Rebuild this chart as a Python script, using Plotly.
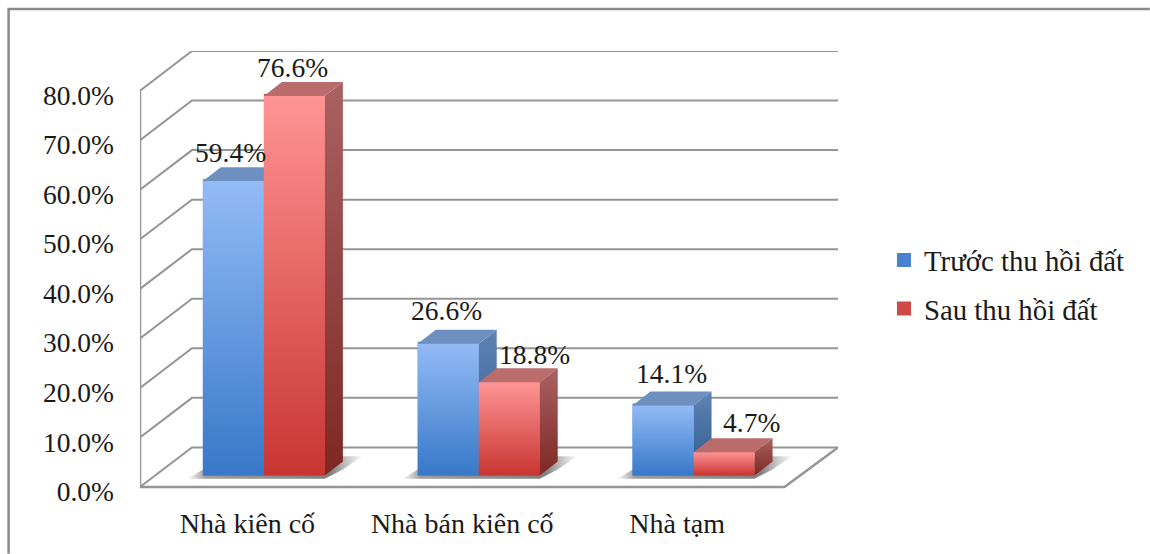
import plotly.graph_objects as go

# ---- data ----
categories = ["Nhà kiên cố", "Nhà bán kiên cố", "Nhà tạm"]
series_names = ["Trước thu hồi đất", "Sau thu hồi đất"]
truoc = [59.4, 26.6, 14.1]
sau = [76.6, 18.8, 4.7]
y_ticks = [0, 10, 20, 30, 40, 50, 60, 70, 80]

# label nudges in pixels (x, y) for each series
label_nudge_truoc = [(-3, 29), (-2, 33), (8, 32)]
label_nudge_sau = [(-2, 28), (25, 28), (27, 30)]

# ---- pseudo-3D geometry in axis units ----
X_MIN, X_MAX = -0.5, 2.749
X_FRONT_END = 2.5
Y_MIN, Y_MAX = -1.0, 88.0
WALL_DX, WALL_DY = 0.2419, 8.0
BAR_BASE = 2.34
GROUP_SHIFT = 0.0767
BAR_W = 0.284
SIDE_DX, SIDE_DY = 0.0837, 2.82
TICK_LABEL_DROP = 0.9  # the labels sit slightly under their gridline ends

FONT = "Liberation Serif"
TEXT = "#1a1a1a"
GRID = "#959595"

styles = [
    dict(front=("#93bbf6", "#3778c8"), top="#6d90c1", side=("#5f83b3", "#2d5a91"), bar="#4a82cf"),
    dict(front=("#ff9494", "#c83531"), top="#ba6c6c", side=("#a96262", "#7e2723"), bar="#cf4a47"),
]

fig = go.Figure()


def poly(xs, ys, **kw):
    fig.add_trace(go.Scatter(x=xs, y=ys, mode="none", fill="toself", showlegend=False,
                             hoverinfo="skip", **kw))


def vgrad(c_top, c_bot):
    return dict(type="vertical", colorscale=[[0, c_bot], [1, c_top]])


# solid bars (carry the legend); shaded faces are laid over them
for s, (name, vals) in enumerate(zip(series_names, (truoc, sau))):
    fig.add_trace(go.Bar(
        x=[i + GROUP_SHIFT + (s - 0.5) * BAR_W for i in range(len(categories))],
        y=vals, base=BAR_BASE + 0.2, width=BAR_W - 0.0093, name=name, legendgroup=name,
        marker=dict(color=styles[s]["bar"], line=dict(width=2, color=styles[s]["bar"])),
    ))

# walls and floor
for v in y_ticks:
    fig.add_trace(go.Scatter(
        x=[X_MIN, X_MIN + WALL_DX, X_MAX], y=[v, v + WALL_DY, v + WALL_DY], mode="lines",
        line=dict(color=GRID, width=2), showlegend=False, hoverinfo="skip"))
fig.add_trace(go.Scatter(
    x=[X_MIN, X_MIN, X_FRONT_END, X_MAX], y=[y_ticks[-1], 0, 0, WALL_DY], mode="lines",
    line=dict(color=GRID, width=2.5), showlegend=False, hoverinfo="skip"))

# floor shadows
SHADOW = dict(type="horizontal", colorscale=[
    [0, "rgba(140,140,140,0.05)"], [0.1, "rgba(125,125,125,0.75)"],
    [0.82, "rgba(105,105,105,0.85)"], [1, "rgba(140,140,140,0.05)"]])
for i in range(len(categories)):
    left = i + GROUP_SHIFT - BAR_W
    right = i + GROUP_SHIFT + BAR_W
    poly([left - 0.07, left, right + SIDE_DX, right + SIDE_DX + 0.09, right + SIDE_DX, right],
         [BAR_BASE - 0.65, BAR_BASE + 1.2, BAR_BASE + 3.9, BAR_BASE + 3.9, BAR_BASE + 1.2, BAR_BASE - 0.65],
         fillgradient=SHADOW, fillcolor="rgba(125,125,125,0.6)")

# 3D faces
for i in range(len(categories)):
    for s, vals in enumerate((truoc, sau)):
        st = styles[s]
        x0 = i + GROUP_SHIFT + (s - 1) * BAR_W
        x1 = x0 + BAR_W
        top = BAR_BASE + vals[i]
        # top face
        poly([x0, x0 + SIDE_DX, x1 + SIDE_DX, x1], [top, top + SIDE_DY, top + SIDE_DY, top],
             fillcolor=st["top"])
        # side face
        poly([x1, x1 + SIDE_DX, x1 + SIDE_DX, x1],
             [BAR_BASE, BAR_BASE + SIDE_DY, top + SIDE_DY, top],
             fillgradient=vgrad(*st["side"]), fillcolor=st["side"][0])
        # front face
        poly([x0, x1, x1, x0], [BAR_BASE, BAR_BASE, top, top],
             fillgradient=vgrad(*st["front"]), fillcolor=st["front"][0])

# data labels
annotations = []
for s, (vals, nudges) in enumerate(((truoc, label_nudge_truoc), (sau, label_nudge_sau))):
    for i, (v, (nx, ny)) in enumerate(zip(vals, nudges)):
        annotations.append(dict(
            x=i + GROUP_SHIFT + (s - 0.5) * BAR_W, y=BAR_BASE + v, text=f"{v:.1f}%",
            showarrow=False, xshift=nx, yshift=ny,
            font=dict(family=FONT, size=27.5, color=TEXT)))

W, H = 1150, 554
L, R, T, B = 139.5, 838, 51, 492.26
pw, ph = R - L, B - T


def px(x):
    return (x - L) / pw


def py(y):
    return (B - y) / ph


fig.update_layout(
    width=W, height=H, autosize=False,
    margin=dict(l=L, r=W - R, t=T, b=H - B, pad=0),
    paper_bgcolor="white", plot_bgcolor="white",
    barmode="overlay", annotations=annotations,
    font=dict(family=FONT, size=27.5, color=TEXT),
    showlegend=True,
    legend=dict(x=px(884), y=py(235), xanchor="left", yanchor="top", tracegroupgap=8,
                bgcolor="rgba(0,0,0,0)", font=dict(family=FONT, size=28.8, color=TEXT)),
    xaxis=dict(range=[X_MIN, X_MAX], tickmode="array", tickvals=list(range(len(categories))),
               ticktext=categories, showgrid=False, zeroline=False, showline=False, ticks="",
               ticklabelstandoff=12, automargin=False, tickfont=dict(family=FONT, size=28, color=TEXT)),
    yaxis=dict(range=[Y_MIN, Y_MAX], tickmode="array", tickvals=[v - TICK_LABEL_DROP for v in y_ticks],
               ticktext=[f"{v:.1f}%" for v in y_ticks],
               showgrid=False, zeroline=False, showline=False, ticks="",
               ticklabelstandoff=25, automargin=False),
    shapes=[dict(type="path", xref="paper", yref="paper",
                 path=f"M {px(8)} {py(554)} L {px(8)} {py(9)} L {px(1150)} {py(9)}",
                 line=dict(color="#8a8a8a", width=2.5))],
)

fig.write_html("out.html", config={"displayModeBar": False},
               post_script="document.body.style.margin='0';")
